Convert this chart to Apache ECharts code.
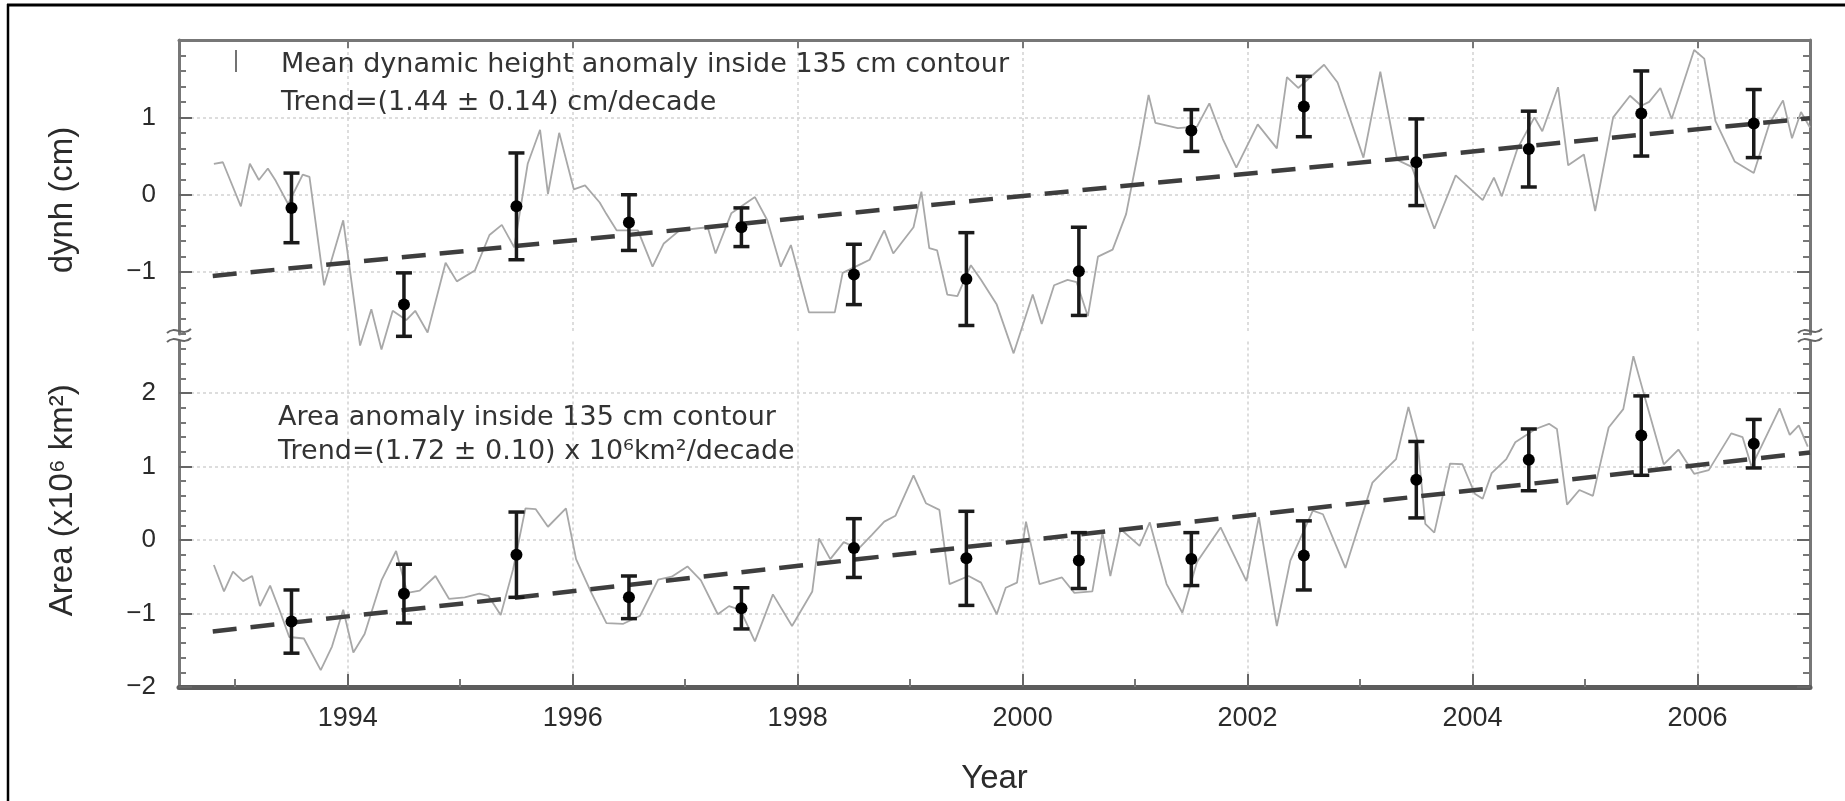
<!DOCTYPE html>
<html>
<head>
<meta charset="utf-8">
<script src="https://cdn.jsdelivr.net/npm/echarts@6/dist/echarts.min.js"></script>
<style>
  html, body { margin: 0; padding: 0; background: #ffffff; }
  #chart { width: 1845px; height: 801px; }
</style>
</head>
<body>
<div id="chart"></div>
<script>
// ---- Mean dynamic height anomaly inside the 135 cm contour (cm) ----
const dynhYears = [1992.81,1992.89,1993.05,1993.13,1993.21,1993.29,1993.36,1993.47,1993.60,1993.66,
  1993.79,1993.96,1994.11,1994.21,1994.30,1994.40,1994.52,1994.60,1994.71,1994.87,
  1994.97,1995.13,1995.26,1995.37,1995.48,1995.60,1995.71,1995.78,1995.88,1996.01,
  1996.11,1996.24,1996.30,1996.39,1996.58,1996.71,1996.81,1996.95,1997.20,1997.27,
  1997.41,1997.62,1997.73,1997.85,1997.94,1998.10,1998.33,1998.40,1998.57,1998.64,
  1998.77,1998.85,1999.03,1999.10,1999.17,1999.24,1999.33,1999.42,1999.54,1999.63,
  1999.77,1999.92,2000.09,2000.17,2000.28,2000.40,2000.48,2000.58,2000.67,2000.80,
  2000.92,2001.04,2001.12,2001.18,2001.38,2001.55,2001.66,2001.78,2001.90,2002.09,
  2002.26,2002.35,2002.45,2002.68,2002.80,2003.03,2003.18,2003.33,2003.46,2003.66,
  2003.85,2004.09,2004.19,2004.26,2004.40,2004.55,2004.62,2004.76,2004.85,2004.99,
  2005.09,2005.25,2005.40,2005.50,2005.57,2005.67,2005.77,2005.97,2006.06,2006.16,
  2006.33,2006.50,2006.64,2006.76,2006.84,2006.92,2007.00];
const dynhValues = [0.40,0.42,-0.15,0.40,0.19,0.34,0.18,-0.12,0.26,0.23,
  -1.17,-0.33,-1.95,-1.48,-2.00,-1.50,-1.62,-1.50,-1.78,-0.88,
  -1.12,-0.98,-0.52,-0.39,-0.68,0.40,0.84,0.01,0.80,0.07,
  0.12,-0.10,-0.25,-0.46,-0.46,-0.93,-0.63,-0.46,-0.42,-0.76,
  -0.24,-0.03,-0.33,-0.93,-0.65,-1.52,-1.52,-1.01,-0.89,-0.84,
  -0.46,-0.76,-0.42,0.04,-0.69,-0.72,-1.29,-1.31,-0.91,-1.10,
  -1.42,-2.05,-1.29,-1.67,-1.17,-1.10,-1.13,-1.57,-0.80,-0.71,
  -0.25,0.64,1.29,0.93,0.86,0.88,1.18,0.72,0.35,0.91,
  0.60,1.52,1.38,1.68,1.45,0.48,1.59,0.45,0.36,-0.44,
  0.25,-0.07,0.22,-0.02,0.60,1.00,0.82,1.39,0.38,0.52,
  -0.21,1.00,1.28,1.15,1.20,1.38,0.98,1.87,1.76,0.95,
  0.43,0.28,0.92,1.22,0.73,1.07,0.87];

// ---- Area anomaly inside the 135 cm contour (x10^6 km^2) ----
const areaYears = [1992.81,1992.90,1992.98,1993.07,1993.15,1993.22,1993.31,1993.40,1993.48,1993.61,
  1993.76,1993.86,1993.96,1994.05,1994.15,1994.30,1994.43,1994.53,1994.64,1994.78,
  1994.90,1995.04,1995.17,1995.25,1995.36,1995.47,1995.58,1995.67,1995.78,1995.94,
  1996.03,1996.16,1996.30,1996.45,1996.60,1996.76,1996.88,1997.02,1997.14,1997.29,
  1997.39,1997.49,1997.62,1997.78,1997.95,1998.13,1998.19,1998.29,1998.41,1998.54,
  1998.66,1998.77,1998.87,1999.03,1999.14,1999.26,1999.35,1999.52,1999.63,1999.77,
  1999.85,1999.95,2000.03,2000.15,2000.35,2000.46,2000.62,2000.71,2000.78,2000.87,
  2001.04,2001.13,2001.28,2001.42,2001.55,2001.76,2001.99,2002.10,2002.26,2002.38,
  2002.58,2002.67,2002.87,2003.11,2003.20,2003.32,2003.43,2003.51,2003.58,2003.66,
  2003.80,2003.91,2004.02,2004.09,2004.17,2004.30,2004.38,2004.56,2004.68,2004.75,
  2004.84,2004.95,2005.07,2005.21,2005.34,2005.43,2005.53,2005.70,2005.83,2005.97,
  2006.10,2006.30,2006.40,2006.48,2006.57,2006.73,2006.82,2006.90,2006.98];
const areaValues = [-0.34,-0.70,-0.43,-0.56,-0.49,-0.90,-0.62,-0.98,-1.32,-1.34,
  -1.77,-1.45,-0.95,-1.53,-1.28,-0.55,-0.15,-0.72,-0.69,-0.49,
  -0.80,-0.78,-0.73,-0.76,-1.02,-0.40,0.43,0.42,0.18,0.43,
  -0.26,-0.70,-1.13,-1.14,-1.03,-0.54,-0.50,-0.36,-0.55,-1.01,
  -0.90,-0.95,-1.38,-0.74,-1.17,-0.70,0.02,-0.26,-0.03,-0.12,
  0.07,0.25,0.33,0.88,0.50,0.41,-0.60,-0.49,-0.58,-1.01,
  -0.65,-0.58,0.25,-0.60,-0.51,-0.72,-0.70,0.10,-0.49,0.15,
  -0.08,0.24,-0.60,-0.99,-0.30,0.17,-0.56,0.31,-1.17,-0.28,
  0.40,0.35,-0.38,0.78,0.92,1.10,1.81,1.35,0.22,0.10,
  1.04,1.03,0.63,0.56,0.91,1.10,1.33,1.51,1.58,1.51,
  0.48,0.68,0.60,1.53,1.78,2.50,1.95,1.03,1.23,0.90,
  0.95,1.45,1.40,1.00,1.28,1.79,1.43,1.56,1.27];

// ---- Annual means with error bars (half-widths) ----
const annualYears = [1993.5,1994.5,1995.5,1996.5,1997.5,1998.5,1999.5,2000.5,2001.5,2002.5,2003.5,2004.5,2005.5,2006.5];
const dynhMean = [-0.17,-1.42,-0.15,-0.36,-0.42,-1.03,-1.09,-0.99,0.83,1.14,0.42,0.59,1.05,0.92];
const dynhErr  = [0.45,0.41,0.69,0.36,0.25,0.39,0.60,0.57,0.27,0.39,0.56,0.49,0.55,0.44];
const areaMean = [-1.11,-0.73,-0.20,-0.78,-0.93,-0.11,-0.25,-0.28,-0.26,-0.21,0.82,1.09,1.42,1.31];
const areaErr  = [0.43,0.40,0.58,0.29,0.28,0.40,0.64,0.38,0.36,0.47,0.52,0.42,0.54,0.33];

// ---- Linear trends (end points) ----
const dynhTrend = [[1992.8, -1.05], [2007.0, 0.99]];
const areaTrend = [[1992.8, -1.245], [2007.0, 1.19]];

// ---- Tick labels ----
const yearTicks = [1994, 1996, 1998, 2000, 2002, 2004, 2006];
const oddYearTicks = [1993, 1995, 1997, 1999, 2001, 2003, 2005];
const dynhTicks = [-1, 0, 1];
const areaTicks = [-2, -1, 0, 1, 2];

const X_MIN = 1992.5, X_MAX = 2007;
const DYNH_MIN = -1.8, DYNH_MAX = 2.0;
const AREA_MIN = -2.0, AREA_MAX = 2.7;

// minor ticks every 0.2 between the labelled ones
function minorTicks(lo, hi) {
  const out = [];
  for (let k = Math.round(lo * 5); k <= Math.round(hi * 5); k++) {
    if (k % 5 !== 0) out.push(+(k / 5).toFixed(1));
  }
  return out;
}

const zip = (xs, ys) => xs.map((x, i) => [x, ys[i]]);
const minus = v => String(v).replace('-', '\u2212');

const GRAY_AXIS = '#777777';
const gridDot = { show: true, lineStyle: { color: '#d2d2d2', width: 1.5, type: [3, 3] } };
const tickFont = 'Liberation Sans';

function yAxisSet(gridIndex, min, max, majors, name, nameShift) {
  const minors = minorTicks(min, max);
  const base = { type: 'value', gridIndex, min, max, axisLine: { show: false, onZero: false },
                 axisLabel: { show: false }, splitLine: { show: false } };
  return [
    Object.assign({}, base, {
      position: 'left',
      axisLine: { show: true, onZero: false, lineStyle: { color: GRAY_AXIS, width: 3 } },
      axisTick: { show: true, inside: true, length: 13, customValues: majors, lineStyle: { color: '#666', width: 2 } },
      axisLabel: { show: true, customValues: majors, margin: 23, formatter: minus,
                   color: '#2b2b2b', fontSize: 26, fontFamily: tickFont },
      splitLine: gridDot,
      name, nameLocation: 'middle', nameGap: 100, nameRotate: 90,
      nameTextStyle: { fontSize: 33, fontFamily: tickFont, color: '#2b2b2b', padding: nameShift }
    }),
    Object.assign({}, base, {
      position: 'left',
      axisTick: { show: true, inside: true, length: 7, customValues: minors, lineStyle: { color: '#777', width: 2 } }
    }),
    Object.assign({}, base, {
      position: 'right',
      axisLine: { show: true, onZero: false, lineStyle: { color: GRAY_AXIS, width: 3 } },
      axisTick: { show: true, inside: true, length: 13, customValues: majors, lineStyle: { color: '#666', width: 2 } }
    }),
    Object.assign({}, base, {
      position: 'right',
      axisTick: { show: true, inside: true, length: 7, customValues: minors, lineStyle: { color: '#777', width: 2 } }
    })
  ];
}

function errorBarItem(params, api) {
  const x = api.value(0), m = api.value(1), e = api.value(2);
  const hi = api.coord([x, m + e]);
  const lo = api.coord([x, m - e]);
  const mid = api.coord([x, m]);
  const cap = 8;
  const st = { stroke: '#1a1a1a', lineWidth: 3.5 };
  return {
    type: 'group',
    children: [
      { type: 'line', shape: { x1: hi[0], y1: hi[1], x2: lo[0], y2: lo[1] }, style: st },
      { type: 'line', shape: { x1: hi[0] - cap, y1: hi[1], x2: hi[0] + cap, y2: hi[1] }, style: st },
      { type: 'line', shape: { x1: lo[0] - cap, y1: lo[1], x2: lo[0] + cap, y2: lo[1] }, style: st },
      { type: 'circle', shape: { cx: mid[0], cy: mid[1], r: 6 }, style: { fill: '#000' } }
    ]
  };
}

function panelSeries(xIdx, yIdx, years, values, trend, mean, err) {
  return [
    { type: 'line', xAxisIndex: xIdx, yAxisIndex: yIdx, data: zip(years, values),
      symbol: 'none', clip: false, z: 2,
      lineStyle: { color: '#a8a8a8', width: 1.8 } },
    { type: 'line', xAxisIndex: xIdx, yAxisIndex: yIdx, data: trend,
      symbol: 'none', clip: false, z: 3,
      lineStyle: { color: '#3e3e3e', width: 4.5, type: [24, 14] } },
    { type: 'custom', xAxisIndex: xIdx, yAxisIndex: yIdx, z: 4, clip: false,
      data: annualYears.map((t, i) => [t, mean[i], err[i]]),
      encode: { x: 0, y: 1 },
      renderItem: errorBarItem }
  ];
}

// decorative axis-break marks (two short waves across each side of the frame)
const PLOT_L = 179, PLOT_R = 1810;
function breakMark(x, y) {
  return { type: 'bezierCurve', z: 100,
    shape: { x1: x - 12, y1: y + 2, x2: x + 12, y2: y - 2, cpx1: x - 4, cpy1: y - 6, cpx2: x + 4, cpy2: y + 6 },
    style: { stroke: '#666', lineWidth: 2, fill: null } };
}

const textStyle = (text, x, y) => ({
  type: 'text', x, y, z: 100,
  style: { text, font: '27px "DejaVu Sans"', fill: '#333333',
           align: 'left', verticalAlign: 'middle', textAlign: 'left', textVerticalAlign: 'middle' }
});

const chart = echarts.init(document.getElementById('chart'), null, { renderer: 'canvas' });

chart.setOption({
  animation: false,
  backgroundColor: '#ffffff',
  grid: [
    { left: PLOT_L, right: 1845 - PLOT_R, top: 40, height: 294 },
    { left: PLOT_L, right: 1845 - PLOT_R, top: 341.5, height: 345.5 }
  ],
  xAxis: [
    { type: 'value', gridIndex: 0, position: 'top', min: X_MIN, max: X_MAX,
      axisLine: { show: true, onZero: false, lineStyle: { color: GRAY_AXIS, width: 3 } },
      axisTick: { show: true, inside: true, length: 8, customValues: yearTicks, lineStyle: { color: '#777', width: 2 } },
      axisLabel: { show: false },
      splitLine: gridDot },
    { type: 'value', gridIndex: 1, position: 'bottom', min: X_MIN, max: X_MAX,
      axisLine: { show: true, onZero: false, lineStyle: { color: '#5c5c5c', width: 5 } },
      axisTick: { show: true, inside: true, length: 13, customValues: yearTicks, lineStyle: { color: '#666', width: 2 } },
      axisLabel: { show: true, customValues: yearTicks, margin: 18, formatter: v => String(v),
                   color: '#2b2b2b', fontSize: 27, fontFamily: tickFont },
      splitLine: gridDot,
      name: 'Year', nameLocation: 'middle', nameGap: 75,
      nameTextStyle: { fontSize: 33, fontFamily: tickFont, color: '#2b2b2b' } },
    { type: 'value', gridIndex: 1, position: 'bottom', min: X_MIN, max: X_MAX,
      axisLine: { show: false, onZero: false },
      axisTick: { show: true, inside: true, length: 8, customValues: oddYearTicks, lineStyle: { color: '#777', width: 2 } },
      axisLabel: { show: false }, splitLine: { show: false } }
  ],
  yAxis: [].concat(
    yAxisSet(0, DYNH_MIN, DYNH_MAX, dynhTicks, 'dynh (cm)', [0, 26, 0, 0]),
    yAxisSet(1, AREA_MIN, AREA_MAX, areaTicks, 'Area (x10\u2076 km\u00b2)', [0, 0, 0, 28])
  ),
  series: [].concat(
    panelSeries(0, 0, dynhYears, dynhValues, dynhTrend, dynhMean, dynhErr),
    panelSeries(1, 4, areaYears, areaValues, areaTrend, areaMean, areaErr)
  ),
  graphic: [
    // outer frame
    { type: 'line', z: 100, shape: { x1: 7, y1: 5, x2: 1845, y2: 5 }, style: { stroke: '#000', lineWidth: 3 } },
    { type: 'line', z: 100, shape: { x1: 8, y1: 4, x2: 8, y2: 801 }, style: { stroke: '#000', lineWidth: 2.5 } },
    // axis breaks
    breakMark(PLOT_L, 331), breakMark(PLOT_L, 340),
    breakMark(PLOT_R, 331), breakMark(PLOT_R, 340),
    // short legend stroke
    { type: 'line', z: 100, shape: { x1: 236, y1: 50, x2: 236, y2: 72 }, style: { stroke: '#444', lineWidth: 1.5 } },
    // panel annotations
    textStyle('Mean dynamic height anomaly inside 135 cm contour', 281, 65),
    textStyle('Trend=(1.44 \u00b1 0.14) cm/decade', 281, 103),
    textStyle('Area anomaly inside 135 cm contour', 278, 418),
    textStyle('Trend=(1.72 \u00b1 0.10) x 10\u2076km\u00b2/decade', 278, 452)
  ]
});
</script>
</body>
</html>
